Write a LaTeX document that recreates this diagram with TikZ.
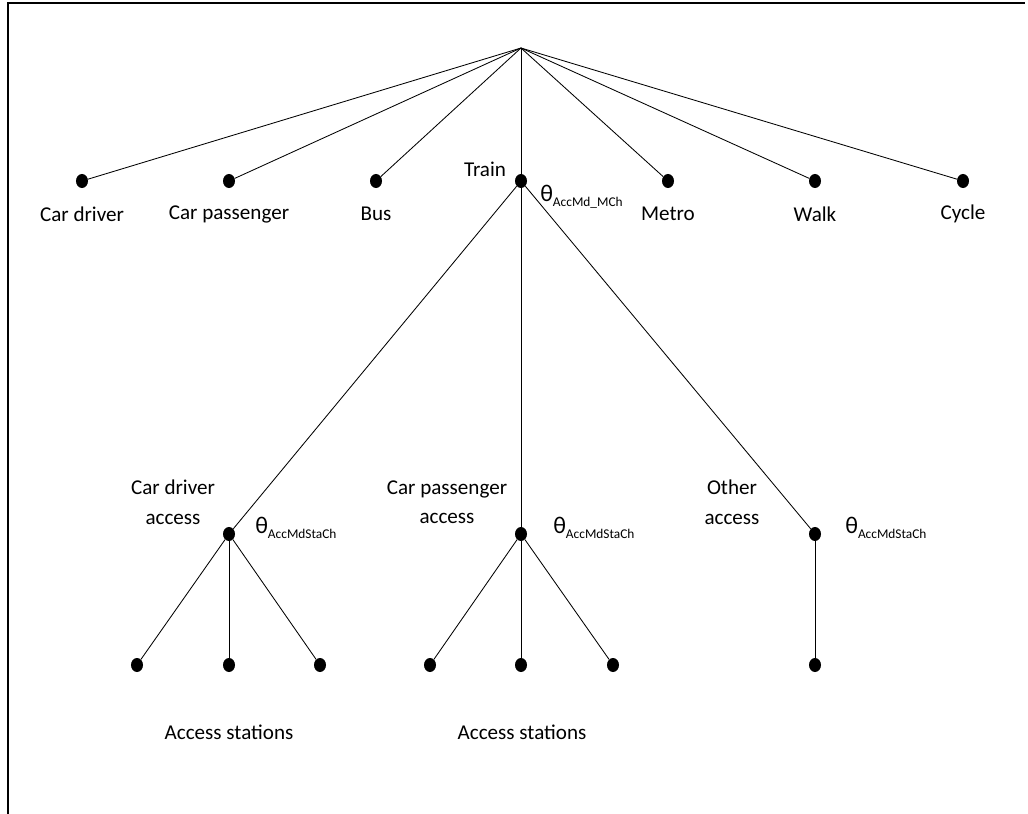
\documentclass[tikz,border=0pt]{standalone}
\usepackage{fontspec}
\setmainfont{Carlito}
\usetikzlibrary{shapes.geometric}
\newcommand{\thetalab}[1]{θ\raisebox{-0.45ex}{\fontsize{9.5}{11}\selectfont #1}}
\begin{document}
\begin{tikzpicture}[
    x=0.025cm, y=-0.025cm,
    dot/.style={shape=ellipse, fill=black, inner sep=0pt, minimum width=0.3cm, minimum height=0.35cm},
    lab/.style={font=\fontsize{15}{21}\selectfont, align=center, inner sep=0pt},
    par/.style={font=\fontsize{17}{19}\selectfont, anchor=west, inner sep=0pt},
    edge/.style={line width=0.6pt},
]
    \useasboundingbox (0,0) rectangle (1028,814);
    % frame
    \draw[line width=1.2pt] (8,814) -- (8,3) -- (1025,3);

    % root
    \coordinate (root) at (521,48);

    % main modes
    \node[dot] (cardrv) at (82,181) {};
    \node[dot] (carpas) at (229,181) {};
    \node[dot] (bus) at (376,181) {};
    \node[dot] (train) at (521,181) {};
    \node[dot] (metro) at (668,181) {};
    \node[dot] (walk) at (815,181) {};
    \node[dot] (cycle) at (963,181) {};
    \foreach \m in {cardrv, carpas, bus, train, metro, walk, cycle}
        \draw[edge] (root) -- (\m);

    \node[lab] (cardrvlab) at (82,214) {Car driver};
    \node[lab] (carpaslab) at (229,214) {Car passenger};
    \node[lab] (buslab) at (376,214) {Bus};
    \node[lab] (trainlab) at (485,169) {Train};
    \node[lab] (metrolab) at (668,214) {Metro};
    \node[lab] (walklab) at (815,214) {Walk};
    \node[lab] (cyclelab) at (963,214) {Cycle};
    \node[par] (trainpar) at (540,197) {\thetalab{AccMd\_MCh}};

    % access modes
    \node[dot] (accdrv) at (229,534) {};
    \node[dot] (accpas) at (521,534) {};
    \node[dot] (accoth) at (815,534) {};
    \foreach \a in {accdrv, accpas, accoth}
        \draw[edge] (train) -- (\a);

    \node[lab] (accdrvlab) at (173,502) {Car driver\\access};
    \node[lab] (accpaslab) at (447,502) {Car passenger\\access};
    \node[lab] (accothlab) at (732,502) {Other\\access};
    \node[par] (accdrvpar) at (255,528) {\thetalab{AccMdStaCh}};
    \node[par] (accpaspar) at (553,528) {\thetalab{AccMdStaCh}};
    \node[par] (accothpar) at (845,528) {\thetalab{AccMdStaCh}};

    % access stations
    \node[dot] (stadrv1) at (137,665) {};
    \node[dot] (stadrv2) at (229,665) {};
    \node[dot] (stadrv3) at (320,665) {};
    \node[dot] (stapas1) at (430,665) {};
    \node[dot] (stapas2) at (521,665) {};
    \node[dot] (stapas3) at (613,665) {};
    \node[dot] (staoth) at (815,665) {};
    \foreach \s in {1,2,3} {
        \draw[edge] (accdrv) -- (stadrv\s);
        \draw[edge] (accpas) -- (stapas\s);
    }
    \draw[edge] (accoth) -- (staoth);

    \node[lab] (stadrvlab) at (229,732) {Access stations};
    \node[lab] (stapaslab) at (522,732) {Access stations};
\end{tikzpicture}
\end{document}
